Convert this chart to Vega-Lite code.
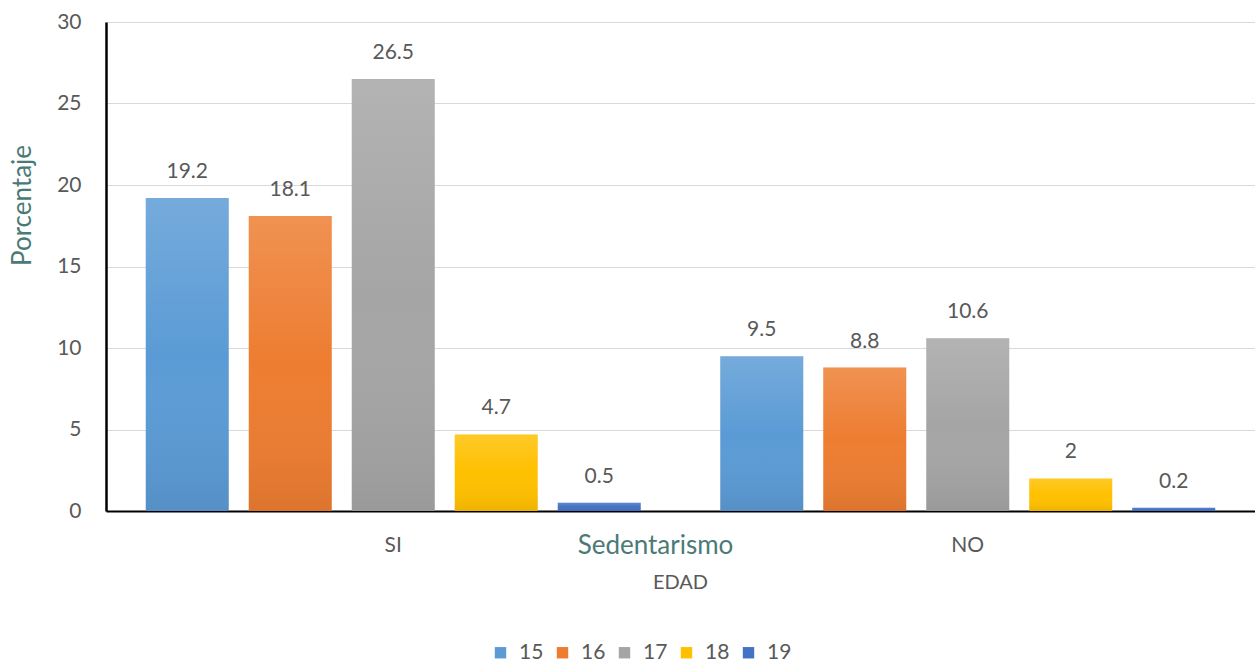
{
  "$schema": "https://vega.github.io/schema/vega-lite/v6.json",
  "width": 1149,
  "height": 489,
  "autosize": "none",
  "padding": {"left": 106, "top": 22, "right": 0, "bottom": 155},
  "background": "white",
  "config": {
    "font": "Lato",
    "view": {"stroke": null}
  },
  "data": {
    "values": [
      {"sedentarismo": "SI", "edad": "15", "porcentaje": 19.2},
      {"sedentarismo": "SI", "edad": "16", "porcentaje": 18.1},
      {"sedentarismo": "SI", "edad": "17", "porcentaje": 26.5},
      {"sedentarismo": "SI", "edad": "18", "porcentaje": 4.7},
      {"sedentarismo": "SI", "edad": "19", "porcentaje": 0.5},
      {"sedentarismo": "NO", "edad": "15", "porcentaje": 9.5},
      {"sedentarismo": "NO", "edad": "16", "porcentaje": 8.8},
      {"sedentarismo": "NO", "edad": "17", "porcentaje": 10.6},
      {"sedentarismo": "NO", "edad": "18", "porcentaje": 2},
      {"sedentarismo": "NO", "edad": "19", "porcentaje": 0.2}
    ]
  },
  "encoding": {
    "x": {
      "field": "sedentarismo",
      "type": "nominal",
      "sort": ["SI", "NO"],
      "scale": {"paddingInner": 0, "paddingOuter": 0},
      "axis": {
        "labelAngle": 0,
        "ticks": false,
        "domainColor": "#000000",
        "domainWidth": 2,
        "labelPadding": 23,
        "labelFontSize": 21,
        "labelColor": "#595959",
        "title": "Sedentarismo",
        "titleColor": "#4a7a77",
        "titleFontSize": 26,
        "titleFontWeight": "normal",
        "titleX": 549,
        "titleY": 34,
        "titleAlign": "center",
        "titleBaseline": "middle"
      }
    },
    "xOffset": {
      "field": "edad",
      "type": "nominal",
      "sort": ["15", "16", "17", "18", "19"],
      "scale": {"paddingInner": 0.194, "paddingOuter": 0.386}
    },
    "y": {
      "field": "porcentaje",
      "type": "quantitative",
      "scale": {"domain": [0, 30], "nice": false},
      "axis": {
        "values": [0, 5, 10, 15, 20, 25, 30],
        "grid": true,
        "gridColor": "#d9d9d9",
        "gridWidth": 1,
        "ticks": false,
        "domainColor": "#000000",
        "domainWidth": 2.5,
        "labelPadding": 25,
        "labelFontSize": 21,
        "labelColor": "#595959",
        "title": "Porcentaje",
        "titleColor": "#4a7a77",
        "titleFontSize": 26,
        "titleFontWeight": "normal",
        "titleAngle": -90,
        "titleX": -84,
        "titleY": 183,
        "titleAlign": "center",
        "titleBaseline": "middle"
      }
    }
  },
  "layer": [
    {
      "mark": {"type": "bar"},
      "encoding": {
        "color": {
          "field": "edad",
          "type": "nominal",
          "scale": {
            "domain": ["15", "16", "17", "18", "19"],
            "range": ["#5b9bd5", "#ed7d31", "#a5a5a5", "#ffc000", "#4472c4"]
          },
          "legend": {
            "title": null,
            "orient": "none",
            "legendX": 384,
            "legendY": 620,
            "direction": "horizontal",
            "symbolType": "square",
            "symbolSize": 130,
            "symbolStrokeWidth": 0,
            "labelFontSize": 21,
            "labelColor": "#595959",
            "labelOffset": 8,
            "columnPadding": 8
          }
        }
      }
    },
    {
      "mark": {
        "type": "bar",
        "fill": {
          "gradient": "linear",
          "x1": 0, "y1": 0, "x2": 0, "y2": 1,
          "stops": [
            {"offset": 0, "color": "rgba(255,255,255,0.16)"},
            {"offset": 0.5, "color": "rgba(255,255,255,0)"},
            {"offset": 1, "color": "rgba(0,0,0,0.07)"}
          ]
        }
      }
    },
    {
      "mark": {
        "type": "text",
        "baseline": "bottom",
        "dy": -16,
        "fontSize": 21,
        "color": "#595959"
      },
      "encoding": {
        "text": {"field": "porcentaje", "type": "quantitative"}
      }
    }
  ],
  "title": {
    "text": "EDAD",
    "orient": "bottom",
    "anchor": "middle",
    "frame": "group",
    "offset": -90,
    "fontSize": 20,
    "fontWeight": "normal",
    "color": "#595959"
  }
}
